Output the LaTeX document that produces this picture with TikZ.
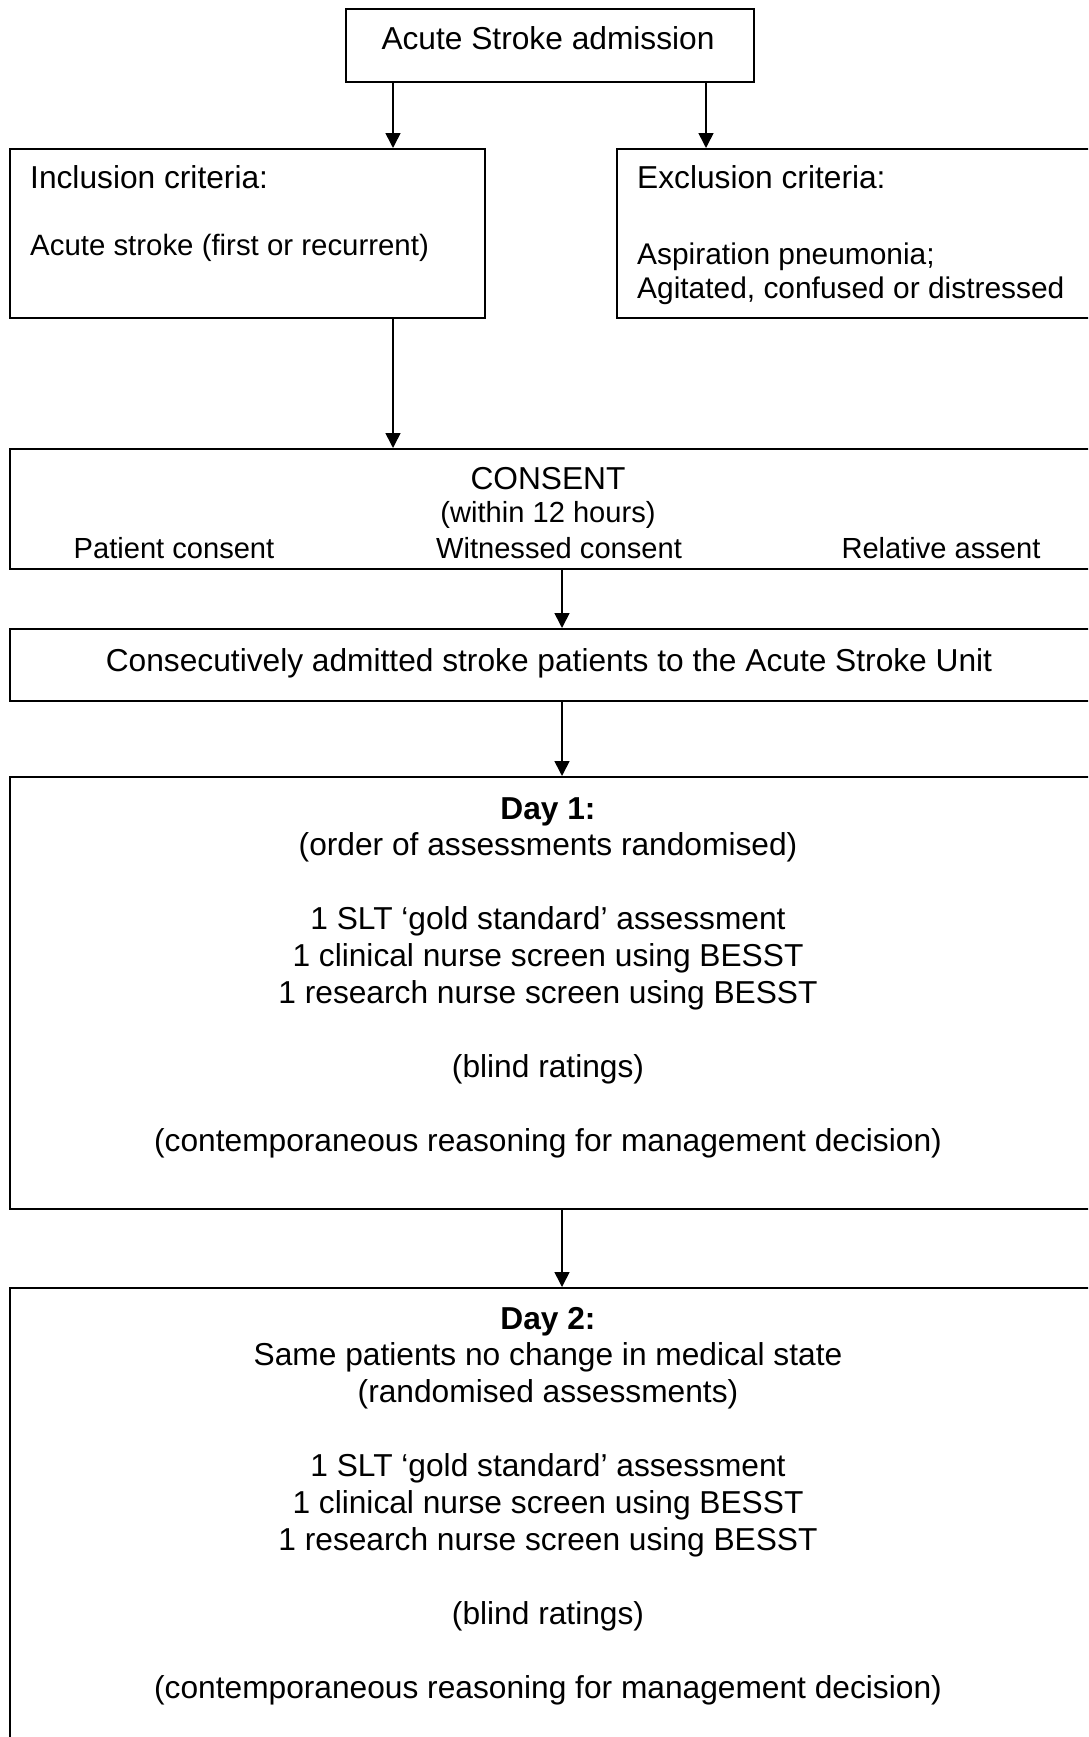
\documentclass[tikz,border=0pt]{standalone}
\usepackage{fontspec}
\setmainfont{Liberation Sans}
\usetikzlibrary{arrows.meta}
\begin{document}
\begin{tikzpicture}[x=1pt,y=-1pt,
  box/.style={draw, line width=1.8pt, inner sep=0pt, anchor=north west},
  arr/.style={line width=1.6pt, -{Triangle[length=15pt,width=15pt]}},
  txt/.style={inner sep=0pt, font=\fontsize{31.7}{36.9}\selectfont},
  small/.style={inner sep=0pt, font=\fontsize{29.1}{34}\selectfont},
  crit/.style={inner sep=0pt, font=\fontsize{29.4}{34}\selectfont},
  critb/.style={inner sep=0pt, font=\fontsize{29.9}{34}\selectfont}]
\useasboundingbox (0,0) rectangle (1088,1737);
\clip (0,0) rectangle (1088,1737);
% boxes
\node[box, minimum width=408pt, minimum height=73pt] (top) at (345,8) {};
\node[box, minimum width=475pt, minimum height=169pt] (inc) at (9,148) {};
\node[box, minimum width=500pt, minimum height=169pt] (exc) at (616,148) {};
\node[box, minimum width=1100pt, minimum height=120pt] (con) at (9,448) {};
\node[box, minimum width=1100pt, minimum height=72pt] (cons) at (9,628) {};
\node[box, minimum width=1100pt, minimum height=432pt] (day1) at (9,776) {};
\node[box, minimum width=1100pt, minimum height=500pt] (day2) at (9,1287) {};
% connector columns
\coordinate (cl) at (393,0);
\coordinate (cr) at (706,0);
\coordinate (cm) at (562,0);
\draw[arr] (top.south -| cl) -- (inc.north -| cl);
\draw[arr] (top.south -| cr) -- (exc.north -| cr);
\draw[arr] (inc.south -| cl) -- (con.north -| cl);
\draw[arr] (con.south -| cm) -- (cons.north -| cm);
\draw[arr] (cons.south -| cm) -- (day1.north -| cm);
\draw[arr] (day1.south -| cm) -- (day2.north -| cm);
% texts
\node[txt, anchor=base] (t1) at (548,50) {Acute Stroke admission};
\node[txt, anchor=base west] (t2) at (30,188) {Inclusion criteria:};
\node[crit, anchor=base west] (t3) at (30,255) {Acute stroke (first or recurrent)};
\node[txt, anchor=base west] (t4) at (637,188) {Exclusion criteria:};
\node[critb, anchor=base west] (t5) at (637,264) {Aspiration pneumonia;};
\node[critb, anchor=base west] (t6) at (637,298) {Agitated, confused or distressed};
\node[txt, anchor=base] (t7) at (548,489) {CONSENT};
\node[small, anchor=base] (t8) at (548,522) {(within 12 hours)};
\node[small, anchor=base] (t9) at (174,558) {Patient consent};
\node[small, anchor=base] (t10) at (559,558) {Witnessed consent};
\node[small, anchor=base] (t11) at (941,558) {Relative assent};
\node[txt, anchor=base] (t12) at (549,671) {Consecutively admitted stroke patients to the Acute Stroke Unit};
\node[txt, anchor=base] (t13) at (548,819) {\begin{tabular}[t]{@{}c@{}}
\textbf{Day 1:}\\
(order of assessments randomised)\\
\\
1 SLT ‘gold standard’ assessment\\
1 clinical nurse screen using BESST\\
1 research nurse screen using BESST\\
\\
(blind ratings)\\
\\
(contemporaneous reasoning for management decision)
\end{tabular}};
\node[txt, anchor=base] (t14) at (548,1329) {\begin{tabular}[t]{@{}c@{}}
\textbf{Day 2:}\\
Same patients no change in medical state\\
(randomised assessments)\\
\\
1 SLT ‘gold standard’ assessment\\
1 clinical nurse screen using BESST\\
1 research nurse screen using BESST\\
\\
(blind ratings)\\
\\
(contemporaneous reasoning for management decision)
\end{tabular}};
\end{tikzpicture}
\end{document}
